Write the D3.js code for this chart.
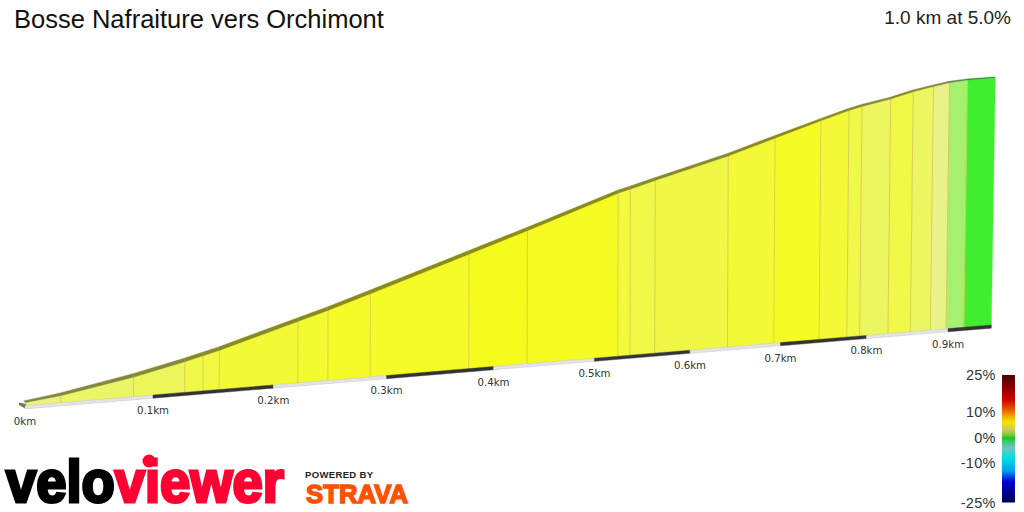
<!DOCTYPE html>
<html>
<head>
<meta charset="utf-8">
<script src="https://d3js.org/d3.v7.min.js"></script>
<style>
html, body { margin: 0; padding: 0; background: #fff; overflow: hidden; }
text { font-family: "Liberation Sans", Arial, sans-serif; }
</style>
</head>
<body>
<svg id="chart" width="1024" height="512"></svg>
<script>
const climbName = "Bosse Nafraiture vers Orchimont";
const climbSummary = "1.0 km at 5.0%";

// segment ends along the climb
const segmentKm = [0, .0273, .0844, .1258, .1408, .1542, .2211, .2474, .2851, .3764, .4327, .524, .5365, .5625, .6407, .6923, .7442, .7767, .7919, .8259, .8531, .8778, .8975, .92, .955];
const elevationM = [0, .8, 3.3, 5.5, 6.4, 7.2, 11.7, 13.4, 16.0, 22.3, 26.0, 32.0, 32.6, 33.9, 37.6, 40.4, 43.1, 44.7, 45.3, 46.3, 47.4, 48.1, 48.6, 48.85, 48.9];
const gradePct = [4.2, 4.4, 4.6, 5.0, 5.2, 5.6, 5.7, 6.0, 6.1, 6.5, 6.3, 5.4, 5.0, 5.1, 5.6, 6.2, 5.6, 5.0, 4.5, 5.0, 4.5, 4.0, 2.0, 0.5];

const tickKm = [0, .1, .2, .3, .4, .5, .6, .7, .8, .9];
const tickLabels = ["0km", "0.1km", "0.2km", "0.3km", "0.4km", "0.5km", "0.6km", "0.7km", "0.8km", "0.9km"];

const legendGrades = [25, 10, 0, -10, -25];
const legendLabels = ["25%", "10%", "0%", "-10%", "-25%"];
const legendStopGrades = [25, 21, 15, 11, 8, 6, 3, 1, 0, -1, -4, -8, -13, -17, -25];
const legendStopColors = ["#440404", "#800000", "#d00000", "#e85a00", "#f0b400", "#f2e600", "#c9c860", "#6fcc30", "#12cc12", "#30c860", "#70c4c0", "#00e0e0", "#00a0f0", "#0000e0", "#000050"];

const fillGrades = [0.5, 2, 4, 4.5, 5, 5.5, 6, 6.5];
const fillColors = ["#40ee30", "#a6f070", "#e9f288", "#ecf660", "#f0f848", "#f2fa38", "#f5fb28", "#f6fb1e"];

const svg = d3.select("#chart");

// the road recedes, so distance is squeezed towards the far end
const squeeze = k => k / (1 + .32 * k);
const kmScale = d3.scaleLinear().domain([0, squeeze(1)]).range([25, 1025.8]);
const baseScale = d3.scaleLinear().domain([0, squeeze(1)]).range([405.7, 322.1]);
const heightScale = d3.scaleLinear().domain([0, 50]).range([3, 253]);
const leanScale = d3.scaleLinear().domain([0, .6, .955]).range([0, .5, 4]);
const bandScale = d3.scaleLinear().domain([0, .05, .3, .6, .8, .9, .955]).range([2, 3.5, 3.5, 2.8, 2, 1.4, .6]);
const fillScale = d3.scaleLinear().domain(fillGrades).range(fillColors).clamp(true);

const xAt = k => kmScale(squeeze(k));
const yAt = k => baseScale(squeeze(k));
const topX = k => xAt(k) + leanScale(k);
const topY = i => yAt(segmentKm[i]) - heightScale(elevationM[i]);
const poly = pts => pts.map(p => p.join(",")).join(" ");
const shade = c => { const r = d3.rgb(c); return d3.rgb(r.r * .56, r.g * .56, r.b * .56).formatHex(); };

const segments = gradePct.map((g, i) => ({ i: i, from: segmentKm[i], to: segmentKm[i + 1], grade: g }));

// wall faces
svg.append("g").selectAll("polygon").data(segments).join("polygon")
  .attr("points", d => poly([
    [xAt(d.from), yAt(d.from)],
    [topX(d.from), topY(d.i)],
    [topX(d.to), topY(d.i + 1)],
    [xAt(d.to), yAt(d.to)]
  ]))
  .attr("fill", d => fillScale(d.grade))
  .attr("stroke", d => fillScale(d.grade))
  .attr("stroke-width", .4);

// joins between the faces
svg.append("g").selectAll("line").data(segments.slice(1)).join("line")
  .attr("x1", d => xAt(d.from)).attr("y1", d => yAt(d.from))
  .attr("x2", d => topX(d.from)).attr("y2", d => topY(d.i))
  .attr("stroke", "#d6c850").attr("stroke-opacity", .85).attr("stroke-width", 1);

// top surface
svg.append("g").selectAll("polygon").data(segments).join("polygon")
  .attr("points", d => poly([
    [topX(d.from), topY(d.i)],
    [topX(d.from) - 1, topY(d.i) - bandScale(d.from)],
    [topX(d.to) - 1, topY(d.i + 1) - bandScale(d.to)],
    [topX(d.to), topY(d.i + 1)]
  ]))
  .attr("fill", d => shade(fillScale(d.grade)))
  .attr("stroke", d => shade(fillScale(d.grade)))
  .attr("stroke-width", .3);

// start block
svg.append("polygon")
  .attr("points", poly([[19, 402.5], [26, 404], [26, 409], [19, 405]]))
  .attr("fill", "#77775e");

// distance strip along the foot
const stripEnds = tickKm.concat([segmentKm[segmentKm.length - 1]]);
const strips = d3.pairs(stripEnds).map((p, i) => ({ from: p[0], to: p[1], dark: i % 2 === 1 || i === 9 }));
const stripDepth = 3.2;
svg.append("g").selectAll("polygon").data(strips).join("polygon")
  .attr("points", d => poly([
    [xAt(d.from), yAt(d.from)],
    [xAt(d.to), yAt(d.to)],
    [xAt(d.to), yAt(d.to) + stripDepth],
    [xAt(d.from), yAt(d.from) + stripDepth]
  ]))
  .attr("fill", d => d.dark ? "#333333" : "#e4e4e4")
  .attr("stroke", d => d.dark ? "#333333" : "#bbbbbb")
  .attr("stroke-width", .4);

svg.append("g").selectAll("text").data(tickKm).join("text")
  .attr("x", d => xAt(d))
  .attr("y", d => yAt(d) + 19)
  .attr("text-anchor", "middle")
  .attr("fill", "#333")
  .style("font-family", "'DejaVu Sans', sans-serif")
  .style("font-size", "10.2px")
  .text((d, i) => tickLabels[i]);

// titles
svg.append("text").attr("x", 14).attr("y", 28)
  .attr("fill", "#111").style("font-size", "25.5px").text(climbName);
svg.append("text").attr("x", 1011).attr("y", 24).attr("text-anchor", "end")
  .attr("fill", "#222").style("font-size", "19px").text(climbSummary);

// grade legend
const legendScale = d3.scaleLinear().domain(legendGrades).range([375, 412, 438, 463, 502.5]);
const defs = svg.append("defs");
const grad = defs.append("linearGradient").attr("id", "legendGrad")
  .attr("gradientUnits", "userSpaceOnUse")
  .attr("x1", 0).attr("x2", 0).attr("y1", legendScale(25)).attr("y2", legendScale(-25));
grad.selectAll("stop").data(legendStopGrades).join("stop")
  .attr("offset", d => (legendScale(d) - legendScale(25)) / (legendScale(-25) - legendScale(25)))
  .attr("stop-color", (d, i) => legendStopColors[i]);
svg.append("rect").attr("x", 1002).attr("y", legendScale(25))
  .attr("width", 13).attr("height", legendScale(-25) - legendScale(25))
  .attr("fill", "url(#legendGrad)");

const legendAxis = d3.axisLeft(legendScale)
  .tickValues(legendGrades)
  .tickSize(0)
  .tickPadding(0)
  .tickFormat((d, i) => legendLabels[i]);
svg.append("g").attr("transform", "translate(995.5,0)").call(legendAxis)
  .call(g => g.select(".domain").remove())
  .selectAll("text")
  .attr("fill", "#333")
  .style("font-family", "'Liberation Sans', sans-serif")
  .style("font-size", "14.5px")
  .style("letter-spacing", ".2px");

// logos
const logo = svg.append("g").style("font-family", "'Liberation Sans', sans-serif").style("font-weight", "bold");
const wordmark = logo.append("text").attr("x", 6).attr("y", 502)
  .attr("textLength", 278).attr("lengthAdjust", "spacingAndGlyphs")
  .attr("stroke-width", 3.2)
  .style("font-size", "60px");
wordmark.append("tspan").attr("fill", "#000").attr("stroke", "#000").text("velo");
wordmark.append("tspan").attr("fill", "#ff0033").attr("stroke", "#ff0033").text("viewer");
logo.append("circle").attr("cx", 149).attr("cy", 461).attr("r", 6.5).attr("fill", "#ff0033");
logo.append("text").attr("x", 305).attr("y", 477.5)
  .attr("fill", "#222").style("font-size", "9.5px").style("letter-spacing", ".35px").text("POWERED BY");
logo.append("text").attr("x", 306).attr("y", 503)
  .attr("textLength", 102).attr("lengthAdjust", "spacingAndGlyphs")
  .attr("fill", "#fc5200").attr("stroke", "#fc5200").attr("stroke-width", 1.5)
  .style("font-size", "26px").text("STRAVA");
</script>
</body>
</html>
